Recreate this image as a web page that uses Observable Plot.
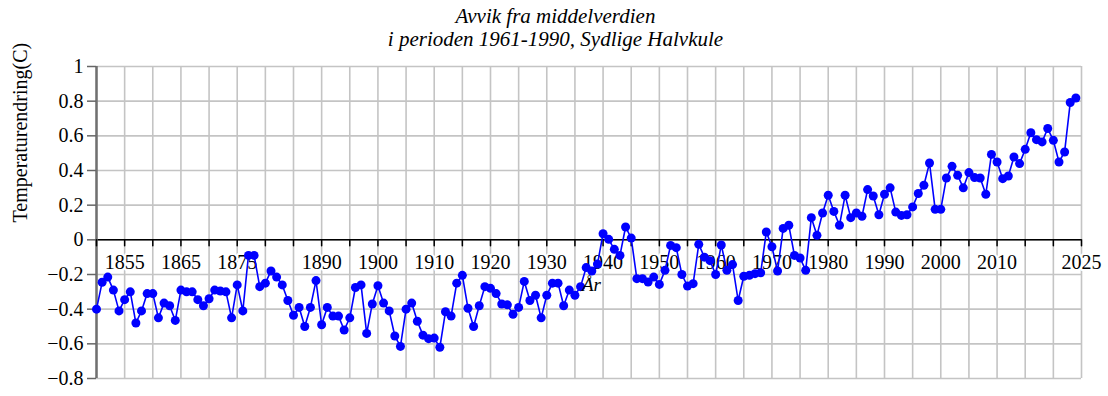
<!DOCTYPE html>
<html>
<head>
<meta charset="utf-8">
<script src="https://cdn.jsdelivr.net/npm/d3@7"></script>
<script src="https://cdn.jsdelivr.net/npm/@observablehq/plot@0.6"></script>
<style>
  html, body { margin: 0; padding: 0; background: #fff; }
  #wrap { position: relative; width: 1108px; height: 396px; font-family: "Liberation Serif", "Times New Roman", serif; }
  #title { position: absolute; left: 0; top: 5px; width: 1111px; text-align: center; font-style: italic; font-size: 21px; line-height: 22.7px; color: #000; z-index: 2; }
  #xlabel { position: absolute; left: 582px; top: 275px; font-style: italic; font-size: 19px; line-height: 19px; color: #000; z-index: 2; }
  #chart { position: absolute; left: 0; top: 0; }
</style>
</head>
<body>
<div id="wrap">
  <div id="chart"></div>
  <div id="title">Avvik fra middelverdien<br>i perioden 1961-1990, Sydlige Halvkule</div>
  <div id="xlabel">År</div>
</div>
<script>
const firstYear = 1850;
const anomalies = [
  -0.40, -0.245, -0.215, -0.29, -0.41, -0.345, -0.30, -0.48, -0.41, -0.31,   // 1850-1859
  -0.31, -0.45, -0.365, -0.38, -0.465, -0.29, -0.30, -0.30, -0.345, -0.38,   // 1860-1869
  -0.34, -0.29, -0.295, -0.30, -0.45, -0.26, -0.41, -0.09, -0.09, -0.27,     // 1870-1879
  -0.25, -0.18, -0.215, -0.26, -0.35, -0.435, -0.39, -0.50, -0.39, -0.235,   // 1880-1889
  -0.49, -0.39, -0.44, -0.44, -0.52, -0.45, -0.275, -0.26, -0.54, -0.37,     // 1890-1899
  -0.265, -0.365, -0.41, -0.555, -0.615, -0.40, -0.365, -0.47, -0.55, -0.57, // 1900-1909
  -0.567, -0.62, -0.415, -0.44, -0.25, -0.205, -0.395, -0.50, -0.38, -0.27,  // 1910-1919
  -0.28, -0.31, -0.37, -0.375, -0.43, -0.39, -0.24, -0.35, -0.32, -0.45,     // 1920-1929
  -0.32, -0.25, -0.25, -0.38, -0.29, -0.32, -0.27, -0.16, -0.18, -0.14,      // 1930-1939
  0.035, 0.003, -0.055, -0.09, 0.074, 0.01, -0.224, -0.224, -0.243, -0.215,  // 1940-1949
  -0.257, -0.176, -0.032, -0.045, -0.20, -0.267, -0.253, -0.026, -0.10, -0.12, // 1950-1959
  -0.20, -0.03, -0.176, -0.143, -0.35, -0.21, -0.205, -0.195, -0.19, 0.045,  // 1960-1969
  -0.04, -0.18, 0.066, 0.084, -0.09, -0.105, -0.176, 0.128, 0.026, 0.155,    // 1970-1979
  0.257, 0.164, 0.084, 0.257, 0.128, 0.155, 0.136, 0.29, 0.253, 0.145,       // 1980-1989
  0.263, 0.30, 0.16, 0.141, 0.145, 0.19, 0.267, 0.315, 0.443, 0.176,         // 1990-1999
  0.176, 0.357, 0.424, 0.372, 0.30, 0.388, 0.359, 0.357, 0.263, 0.493,       // 2000-2009
  0.449, 0.353, 0.368, 0.478, 0.44, 0.522, 0.618, 0.578, 0.565, 0.642,       // 2010-2019
  0.574, 0.449, 0.507, 0.792, 0.818                                          // 2020-2024
];
const xGridYears = [1850,1855,1860,1865,1870,1875,1880,1885,1890,1895,1900,1905,1910,1915,1920,1925,1930,1935,1940,1945,1950,1955,1960,1965,1970,1975,1980,1985,1990,1995,2000,2005,2010,2015,2020,2025];
const xLabelYears = [1855,1865,1875,1890,1900,1910,1920,1930,1940,1950,1960,1970,1980,1990,2000,2010,2025];
const yTicks = [-0.8,-0.6,-0.4,-0.2,0,0.2,0.4,0.6,0.8,1];
const yTitle = "Temperaturendring(C)";

const data = anomalies.map((v, i) => ({year: firstYear + i, value: v}));
const fmt = d3.format("~g");
const gridColor = "#c4c4c4";
const tickShape = {draw(context, l) { context.moveTo(0, 0); context.lineTo(0, -l); }};

const chart = Plot.plot({
  width: 1108,
  height: 396,
  marginLeft: 96,
  marginRight: 27,
  marginTop: 66,
  marginBottom: 18,
  style: {fontFamily: "'Liberation Serif', 'Times New Roman', serif", background: "white", color: "black"},
  x: {domain: [1850, 2025], axis: null},
  y: {domain: [-0.8, 1], axis: null},
  marks: [
    Plot.gridX(xGridYears, {stroke: gridColor, strokeOpacity: 1, strokeWidth: 1.6}),
    Plot.gridY(yTicks, {stroke: gridColor, strokeOpacity: 1, strokeWidth: 1.6}),
    Plot.ruleY([0], {stroke: "black", strokeWidth: 1.5}),
    Plot.ruleX([1850], {stroke: "#707070", strokeWidth: 2.5}),
    Plot.axisY(yTicks, {anchor: "left", tickSize: 9, tickPadding: 4, fontSize: 20, stroke: "#666", strokeWidth: 1.5, tickFormat: fmt, label: null}),
    Plot.vector(xGridYears, {x: d => d, y: 0, length: 6, rotate: 180, anchor: "start", shape: tickShape, stroke: "black", strokeWidth: 1.5}),
    Plot.text(xLabelYears, {x: d => d, y: 0, dy: 23, text: d => String(d), fontSize: 20, fill: "black", stroke: "white", strokeWidth: 4}),
    Plot.text([yTitle], {frameAnchor: "left", rotate: -90, dx: -76, fontSize: 20, fill: "black"}),
    Plot.line(data, {x: "year", y: "value", stroke: "#0000ff", strokeWidth: 1.6}),
    Plot.dot(data, {x: "year", y: "value", r: 4.5, fill: "#0000ff", stroke: "none"})
  ]
});
document.getElementById("chart").appendChild(chart);
</script>
</body>
</html>
